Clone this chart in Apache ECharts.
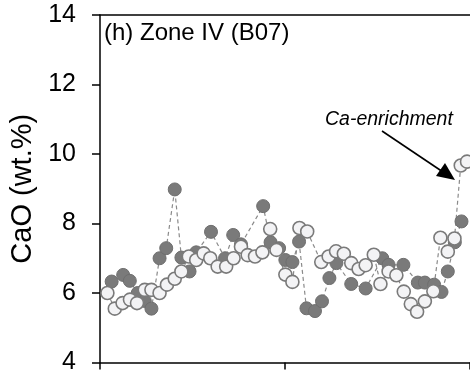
<!DOCTYPE html>
<html><head><meta charset="utf-8">
<script src="https://cdn.jsdelivr.net/npm/echarts@6/dist/echarts.min.js"></script>
<style>html,body{margin:0;padding:0;background:#fff}#c{width:470px;height:375px}</style>
</head><body><div id="c"></div>
<script>
// Position along profile (arbitrary units, 0-100) and CaO (wt.%)
const filledX = [3.15,6.26,8.06,10.2,12.1,13.9,16.1,17.9,20.2,22.0,24.2,26.0,30.0,33.8,36.0,38.1,44.1,46.1,48.4,50.1,52.0,53.8,55.8,58.1,60.0,62.0,63.9,67.9,71.8,76.3,78.0,82.0,85.9,87.8,90.3,92.3,94.0,95.9,97.7];
const filledY = [6.33,6.52,6.35,6.0,5.77,5.55,7.0,7.29,8.98,7.02,6.62,7.17,7.76,7.0,7.67,7.4,8.5,7.46,7.29,6.95,6.89,7.48,5.56,5.48,5.76,6.43,6.86,6.26,6.13,7.0,6.81,6.81,6.3,6.3,6.24,6.03,6.62,7.46,8.06];
const openX = [2.0,4.0,6.1,8.1,10.0,12.1,13.9,16.1,18.1,20.2,22.0,24.0,26.0,28.0,29.8,31.8,34.1,36.1,38.1,39.9,41.9,43.9,46.0,47.7,50.1,52.0,53.9,56.0,59.8,61.8,63.8,65.9,67.9,69.9,71.8,74.0,75.8,78.0,80.1,82.1,84.0,85.7,87.8,90.1,92.0,94.0,95.8,97.5,99.2];
const openY = [6.0,5.55,5.71,5.81,5.71,6.09,6.09,6.0,6.24,6.41,6.62,7.05,6.95,7.14,7.0,6.76,6.76,7.0,7.33,7.09,7.05,7.17,7.84,7.24,6.53,6.32,7.87,7.77,6.89,7.05,7.2,7.13,6.86,6.69,6.8,7.1,6.26,6.62,6.51,6.04,5.68,5.46,5.76,6.05,7.59,7.19,7.57,9.67,9.78];
const yTicks = [4,6,8,10,12,14];
const yName = 'CaO (wt.%)';
const panelTitle = '(h) Zone IV (B07)';
const annotation = 'Ca-enrichment';

const zip = (xs, ys) => xs.map((x, i) => [x, ys[i]]);
const F = 'Liberation Sans, Arial, sans-serif';
const chart = echarts.init(document.getElementById('c'), null, {renderer: 'canvas'});
const lineStyle = {color: '#8a8a8a', width: 1.2, type: [4, 3]};
chart.setOption({
  animation: false,
  grid: {left: 100, top: 15, right: -2, bottom: 10, containLabel: false},
  xAxis: [{
    type: 'value', min: 0, max: 100, interval: 50,
    axisLine: {show: true, onZero: false, lineStyle: {color: '#000', width: 1.5}},
    axisTick: {show: true, inside: false, length: 7, lineStyle: {color: '#000', width: 1.5}},
    axisLabel: {show: false}, splitLine: {show: false}
  }, {
    type: 'value', position: 'top', min: 0, max: 100,
    axisLine: {show: true, lineStyle: {color: '#000', width: 1.5}},
    axisTick: {show: false}, axisLabel: {show: false}, splitLine: {show: false}
  }],
  yAxis: {
    type: 'value', min: yTicks[0], max: yTicks[yTicks.length - 1], interval: 2,
    name: yName, nameLocation: 'middle', nameGap: 59,
    nameTextStyle: {fontFamily: F, fontSize: 29, color: '#000'},
    axisLine: {show: true, onZero: false, lineStyle: {color: '#000', width: 1.5}},
    axisTick: {show: true, inside: false, length: 8, lineStyle: {color: '#000', width: 1.5}},
    axisLabel: {fontFamily: F, fontSize: 25, color: '#000', margin: 24},
    splitLine: {show: false}
  },
  series: [
    {type: 'line', data: zip(filledX, filledY), showSymbol: false, symbol: 'none', lineStyle: lineStyle, z: 1, silent: true},
    {type: 'line', data: zip(openX, openY), showSymbol: false, symbol: 'none', lineStyle: lineStyle, z: 1, silent: true},
    {type: 'scatter', data: zip(filledX, filledY), symbolSize: 13, z: 2,
      itemStyle: {color: '#7a7a7a', borderColor: '#6e6e6e', borderWidth: 1, opacity: 1}},
    {type: 'scatter', data: zip(openX, openY), symbolSize: 13, z: 3,
      itemStyle: {color: '#f3f3f5', borderColor: '#7a7a7a', borderWidth: 1.6, opacity: 1}}
  ],
  graphic: [
    {type: 'text', x: 104, y: 33.5, style: {text: panelTitle, font: '24px ' + F, fill: '#000', verticalAlign: 'middle'}},
    {type: 'text', x: 325, y: 119.5, style: {text: annotation, font: 'italic 19.5px ' + F, fill: '#000', verticalAlign: 'middle'}},
    {type: 'line', shape: {x1: 382, y1: 131, x2: 443, y2: 172}, style: {stroke: '#000', lineWidth: 1.6}},
    {type: 'polygon', shape: {points: [[455, 180], [436, 176], [445, 163]]}, style: {fill: '#000'}}
  ]
});
</script></body></html>
